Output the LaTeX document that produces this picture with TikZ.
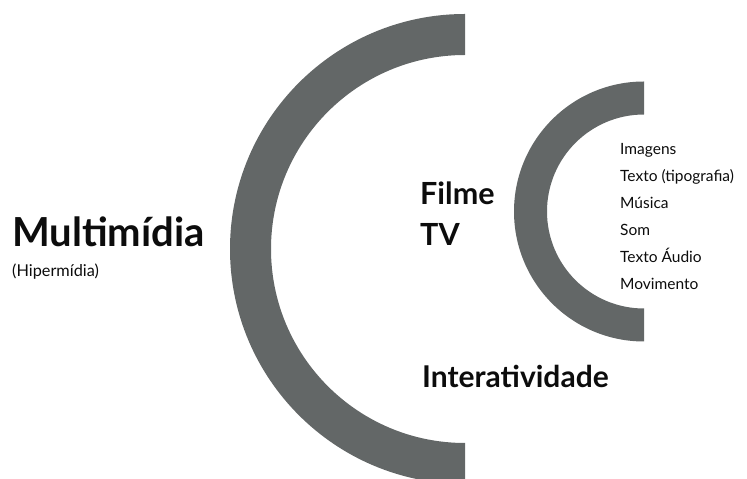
\documentclass[tikz,border=0pt]{standalone}
\usepackage{fontspec}
\setmainfont{Lato}[RawFeature=+dlig]
\usetikzlibrary{positioning,calc}
\definecolor{arcgray}{RGB}{99,103,103}
\definecolor{ink}{RGB}{12,12,12}

\begin{document}
\begin{tikzpicture}[x=1pt,y=1pt,
  lbl/.style={anchor=base west,inner sep=0pt,text=ink},
  big/.style={lbl,font=\bfseries\fontsize{40}{48}\selectfont},
  mid/.style={lbl,font=\bfseries\fontsize{30.5}{36}\selectfont},
  sml/.style={lbl,font=\fontsize{15.5}{19}\selectfont}]
\useasboundingbox (0,0) rectangle (747,479);
\clip (0,0) rectangle (747,479);
% outer half ring
\coordinate (c1) at (465,230);
\fill[arcgray] ($(c1)+(0,235)$) arc[start angle=90,end angle=270,radius=235]
  -- ($(c1)+(0,-194)$) arc[start angle=270,end angle=90,radius=194] -- cycle;
% inner half ring
\coordinate (c2) at (644,267.5);
\fill[arcgray] ($(c2)+(0,130)$) arc[start angle=90,end angle=270,radius=130]
  -- ($(c2)+(0,-97)$) arc[start angle=270,end angle=90,radius=97] -- cycle;
% labels
\node[big] (multi) at (12,232) {Multimídia};
\node[lbl,font=\fontsize{16.3}{19}\selectfont] (hiper) at (12,202) {(Hipermídia)};
\node[mid] (filme) at (420,274) {Filme};
\node[mid] (tv) at (420,233) {TV};
\node[lbl,font=\bfseries\fontsize{30}{36}\selectfont] (inter) at (422,91) {Interatividade};
\foreach \t [count=\i] in {Imagens,Texto (tipografia),Música,Som,Texto Áudio,Movimento}
  \node[sml] (item\i) at (620,351-27*\i) {\t};
\end{tikzpicture}
\end{document}
